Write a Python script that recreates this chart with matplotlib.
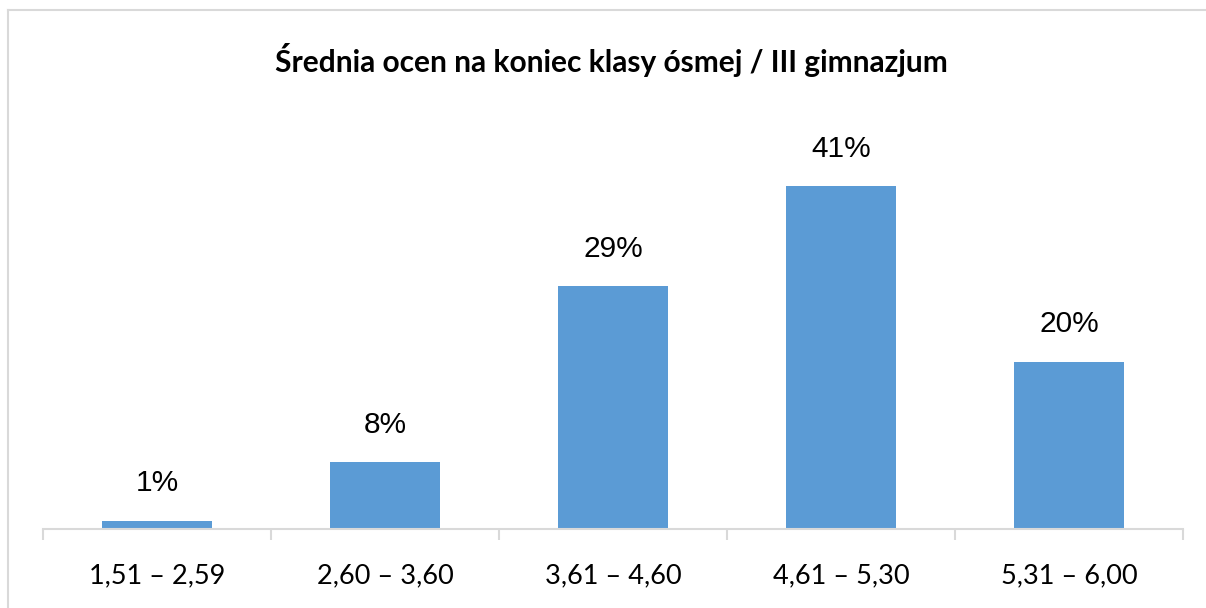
import matplotlib
matplotlib.use("Agg")
import matplotlib.pyplot as plt
from matplotlib.lines import Line2D
import numpy as np

categories = ["1,51 – 2,59", "2,60 – 3,60", "3,61 – 4,60", "4,61 – 5,30", "5,31 – 6,00"]
values = [1, 8, 29, 41, 20]
labels = ["1%", "8%", "29%", "41%", "20%"]
title = "Średnia ocen na koniec klasy ósmej / III gimnazjum"

W, H = 1206, 608
fig = plt.figure(figsize=(W / 100, H / 100), dpi=100)
fig.patch.set_facecolor("white")

# outer chart border (partially cropped)
border = "#D9D9D9"
fig.add_artist(Line2D([8 / W, 1], [1 - 10 / H, 1 - 10 / H], color=border, lw=1.5, transform=fig.transFigure))
fig.add_artist(Line2D([8 / W, 8 / W], [0, 1 - 10 / H], color=border, lw=1.5, transform=fig.transFigure))

ymax = 50
px_per = 8.37
ax_h = ymax * px_per
ax = fig.add_axes([43 / W, 79 / H, (1183 - 43) / W, ax_h / H])
x = np.arange(len(categories))
bars = ax.bar(x, values, width=0.485, color="#5B9BD5", zorder=2)
ax.set_xlim(-0.5, len(categories) - 0.5)
ax.set_ylim(0, ymax)

for xi, v, lab in zip(x, values, labels):
    ax.annotate(lab, (xi, v), xytext=(0, 21), textcoords="offset points",
                ha="center", va="baseline", fontsize=21.5, family="Liberation Sans", color="#000000")

for s in ["top", "right", "left"]:
    ax.spines[s].set_visible(False)
ax.spines["bottom"].set_color(border)
ax.spines["bottom"].set_linewidth(1.5)
ax.set_yticks([])
ax.set_xticks(np.arange(-0.5, len(categories), 1.0))
ax.set_xticklabels([])
ax.tick_params(axis="x", which="major", direction="out", length=8, width=1.5, color=border)
ax.set_xticks(x, minor=True)
ax.set_xticklabels(categories, minor=True, fontsize=19.5, family="Lato")
ax.tick_params(axis="x", which="minor", length=0, pad=25)

fig.text(611 / W, 1 - 60 / H, title, ha="center", va="center", fontsize=21.5,
         fontweight="bold", family="Lato", color="#000000")

fig.savefig("out.png", dpi=100)
